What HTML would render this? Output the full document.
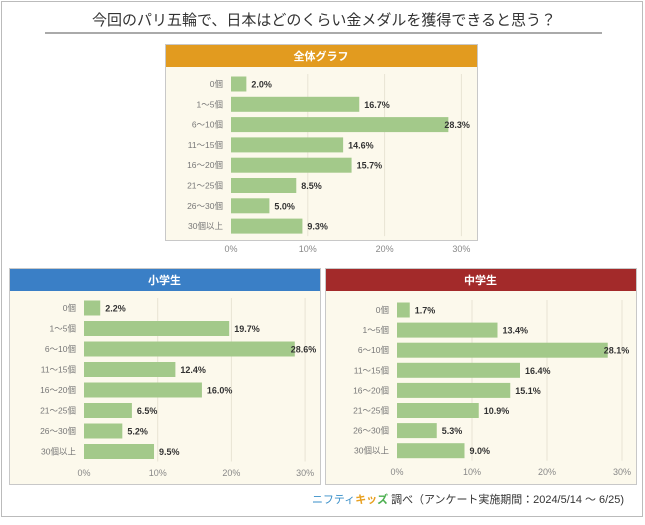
<!DOCTYPE html>
<html><head><meta charset="utf-8"><style>
body{margin:0;background:#fff;width:645px;height:520px;overflow:hidden;font-family:"Liberation Sans","Noto Sans CJK JP",sans-serif}
svg text{font-family:"Liberation Sans","Noto Sans CJK JP",sans-serif}
</style></head><body>
<svg id="s" width="645" height="520" xmlns="http://www.w3.org/2000/svg">
<rect x="1.5" y="1.5" width="641" height="515" fill="#fff" stroke="#bbb"/>
<text x="324" y="25" text-anchor="middle" font-size="15" fill="#333">今回のパリ五輪で、日本はどのくらい金メダルを獲得できると思う？</text>
<line x1="45" y1="33" x2="602" y2="33" stroke="#555" stroke-width="1"/>
<text x="312" y="503" font-size="11" fill="#333" textLength="312" lengthAdjust="spacingAndGlyphs"><tspan fill="#3a8fc8">ニフティ</tspan><tspan fill="#e8a020" font-weight="bold">キッ</tspan><tspan fill="#4caf50" font-weight="bold">ズ</tspan> 調べ（アンケート実施期間：2024/5/14 ～ 6/25)</text>
</svg>
<script>
const s=document.getElementById('s');const NS='http://www.w3.org/2000/svg';
function el(t,a,txt){const e=document.createElementNS(NS,t);for(const k in a)e.setAttribute(k,a[k]);if(txt!=null)e.textContent=txt;s.appendChild(e);return e;}
const cats=['0個','1～5個','6～10個','11～15個','16～20個','21～25個','26～30個','30個以上'];
function panel(x,y,w,h,hc,title,x0,ppc,rows0,step,vals,ticky){
 el('rect',{x:x+.5,y:y+.5,width:w,height:h,fill:'#fcf9ec',stroke:'#c8c8c8'});
 el('rect',{x:x+1,y:y+1,width:w-1,height:22,fill:hc});
 el('text',{x:x+w/2,y:y+16,'text-anchor':'middle','font-size':11,'font-weight':'bold',fill:'#fff'},title);
 for(let i=1;i<=3;i++){const gx=x0+i*10*ppc;el('line',{x1:gx,y1:rows0-10,x2:gx,y2:rows0+7*step+10,stroke:'#e8e4d4'});}
 for(let i=0;i<=3;i++)el('text',{x:x0+i*10*ppc,y:ticky,'text-anchor':'middle','font-size':9,fill:'#888'},(i*10)+'%');
 vals.forEach((v,i)=>{const cy=rows0+i*step;
  el('rect',{x:x0,y:cy-7.5,width:v*ppc,height:15,fill:'#a3c98a'});
  el('text',{x:x0-8,y:cy+3,'text-anchor':'end','font-size':8.5,fill:'#777'},cats[i]);
  el('text',{x:x0+v*ppc+(v>27?-4:5),y:cy+3.5,'font-size':9,'font-weight':'bold',fill:'#333'},v.toFixed(1)+'%');
 });
}
panel(165,44,312,196,'#e29b1f','全体グラフ',231,7.68,84,20.3,[2.0,16.7,28.3,14.6,15.7,8.5,5.0,9.3],252);
panel(9,268,311,216,'#3a7fc6','小学生',84,7.37,308,20.5,[2.2,19.7,28.6,12.4,16.0,6.5,5.2,9.5],476);
panel(325,268,311,216,'#a32a2a','中学生',397,7.5,310,20.1,[1.7,13.4,28.1,16.4,15.1,10.9,5.3,9.0],475);
</script>
</body></html>
